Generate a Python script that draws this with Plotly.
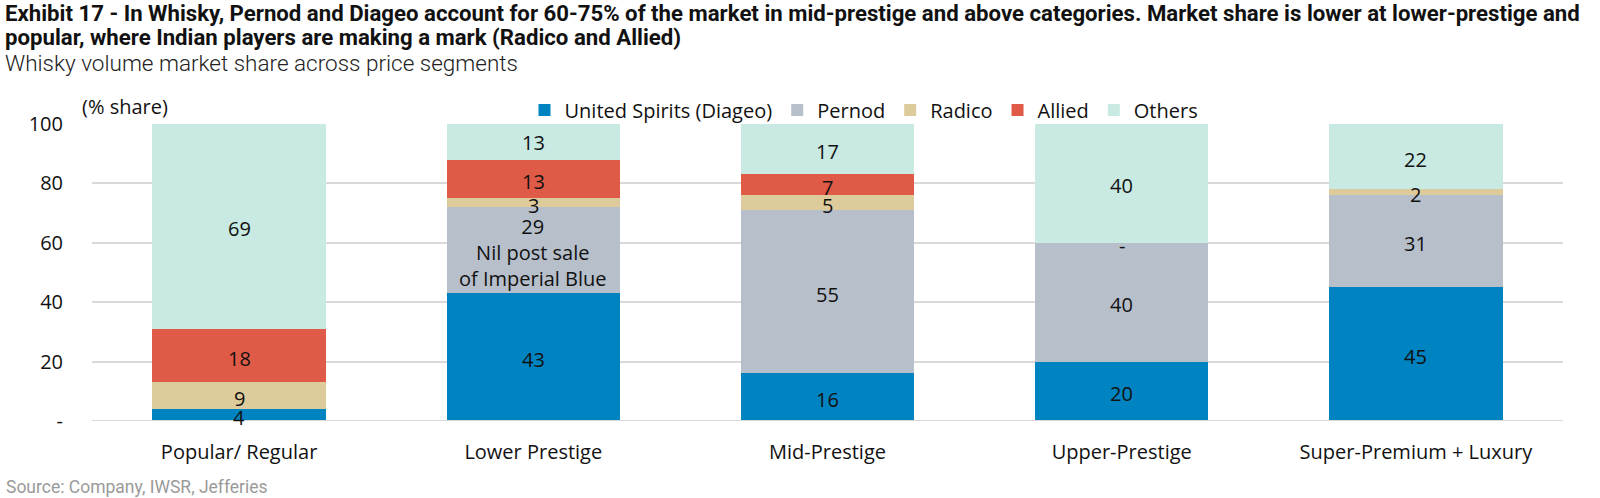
import plotly.graph_objects as go

categories = ["Popular/ Regular", "Lower Prestige", "Mid-Prestige", "Upper-Prestige", "Super-Premium + Luxury"]
series_names = ["United Spirits (Diageo)", "Pernod", "Radico", "Allied", "Others"]
usl = [4, 43, 16, 20, 45]
pernod = [0, 29, 55, 40, 31]
radico = [9, 3, 5, 0, 2]
allied = [18, 13, 7, 0, 0]
others = [69, 13, 17, 40, 22]
# label text per segment ("" = no label)
usl_lbl = ["4", "43", "16", "20", "45"]
pernod_lbl = ["", "29<br>Nil post sale<br>of Imperial Blue", "55", "40", "31"]
radico_lbl = ["9", "3", "5", "-", "2"]
allied_lbl = ["18", "13", "7", "", ""]
others_lbl = ["69", "13", "17", "40", "22"]
y_ticks = [0, 20, 40, 60, 80, 100]
y_tick_text = ["-", "20", "40", "60", "80", "100"]

colors = ["#0083C1", "#B6BFCA", "#DDCB9B", "#E05A48", "#C8EAE2"]
series = [usl, pernod, radico, allied, others]
labels = [usl_lbl, pernod_lbl, radico_lbl, allied_lbl, others_lbl]

W, H = 1600, 498
L, T = 92, 124
R, B = W - 1563, H - 421
PW, PH = W - L - R, H - T - B

def px_x(px):  # page pixel -> paper x
    return (px - L) / PW

def px_y(py):  # page pixel -> paper y
    return (H - B - py) / PH

LABEL_FONT = "Open Sans"
TITLE_FONT = "Roboto"
FS = 20

fig = go.Figure()
for name, vals, col in zip(series_names, series, colors):
    fig.add_trace(go.Bar(
        name=name, x=categories, y=vals, marker=dict(color=col, line=dict(width=0)),
        hoverinfo="x+y+name",
    ))

annotations = []
base = [0] * len(categories)
for vals, lbls in zip(series, labels):
    for i, (v, t) in enumerate(zip(vals, lbls)):
        if t:
            annotations.append(dict(
                x=categories[i], y=base[i] + v / 2, xref="x", yref="y",
                text=t, showarrow=False, yshift=-2.5,
                font=dict(family=LABEL_FONT, size=FS, color="#111111"),
            ))
        base[i] += v

annotations += [
    dict(xref="paper", yref="paper", x=px_x(3), y=px_y(13), xanchor="left", yanchor="middle",
         text="<b>Exhibit 17 - In Whisky, Pernod and Diageo account for 60-75% of the market in mid-prestige and above categories. Market share is lower at lower-prestige and</b>",
         showarrow=False, font=dict(family=TITLE_FONT, size=22.2, color="#111111")),
    dict(xref="paper", yref="paper", x=px_x(3), y=px_y(37.5), xanchor="left", yanchor="middle",
         text="<b>popular, where Indian players are making a mark (Radico and Allied)</b>",
         showarrow=False, font=dict(family=TITLE_FONT, size=22.2, color="#111111")),
    dict(xref="paper", yref="paper", x=px_x(3), y=px_y(62.5), xanchor="left", yanchor="middle",
         text="Whisky volume market share across price segments",
         showarrow=False, font=dict(family=TITLE_FONT, size=22.5, weight=300, color="#222222")),
    dict(xref="paper", yref="paper", x=px_x(80), y=px_y(106), xanchor="left", yanchor="middle",
         text="(% share)", showarrow=False, font=dict(family=LABEL_FONT, size=FS, color="#111111")),
    dict(xref="paper", yref="paper", x=px_x(4), y=px_y(487), xanchor="left", yanchor="middle",
         text="Source: Company, IWSR, Jefferies",
         showarrow=False, font=dict(family=TITLE_FONT, size=17.5, color="#9a9a9a")),
]

fig.update_layout(
    width=W, height=H,
    margin=dict(l=L, r=R, t=T, b=B, pad=0),
    barmode="stack", bargap=0.41,
    paper_bgcolor="white", plot_bgcolor="white",
    showlegend=True,
    legend=dict(orientation="h", xref="paper", yref="paper", x=px_x(864), xanchor="center",
                y=px_y(110), yanchor="middle", font=dict(family=LABEL_FONT, size=FS, color="#111111"),
                traceorder="normal", itemwidth=30, bgcolor="rgba(0,0,0,0)"),
    xaxis=dict(showgrid=False, showline=False, ticks="", tickfont=dict(family=LABEL_FONT, size=FS, color="#111111"),
               ticklabelstandoff=17),
    yaxis=dict(range=[0, 100], tickvals=y_ticks, ticktext=y_tick_text, showgrid=True, gridcolor="#D9D9D9",
               gridwidth=2, zeroline=False, showline=False, ticks="", ticklabelstandoff=28,
               tickfont=dict(family=LABEL_FONT, size=FS, color="#111111")),
    annotations=annotations,
    font=dict(family=LABEL_FONT),
)
fig.add_shape(type="line", xref="paper", yref="y", x0=0, x1=1, y0=0, y1=0,
              line=dict(color="#D9D9D9", width=2), layer="above")

# remove the default 8px page margin so the 1600x498 figure fills the window exactly
fig.write_html("out.html", config={"displayModeBar": False},
               post_script="document.body.style.margin='0';document.body.style.overflow='hidden';")
